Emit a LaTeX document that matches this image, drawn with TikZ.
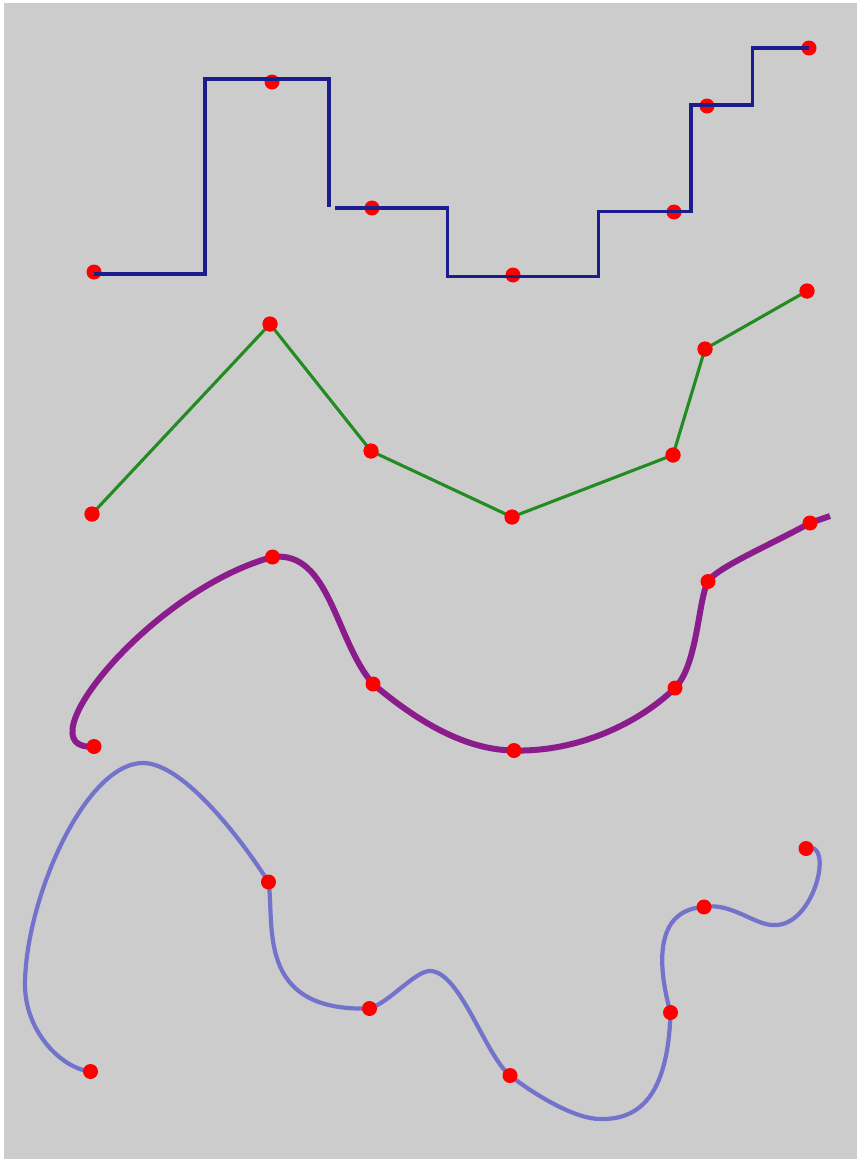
\documentclass[tikz,border=0pt]{standalone}
\begin{document}
\begin{tikzpicture}[x=1pt,y=-1pt,
  dot/.style={circle,fill=dotred,draw=none,inner sep=0pt,minimum size=15pt},
  stepline/.style={draw=navyline,line width=3.1pt},
  greenline/.style={draw=greenline,line width=3.1pt,line join=round},
  purplecurve/.style={draw=purpleline,line width=6pt},
  lavcurve/.style={draw=lavline,line width=4.2pt}]
\definecolor{bg}{RGB}{204,204,204}
\definecolor{dotred}{RGB}{255,0,0}
\definecolor{navyline}{RGB}{28,28,140}
\definecolor{greenline}{RGB}{34,139,34}
\definecolor{purpleline}{RGB}{139,28,139}
\definecolor{lavline}{RGB}{115,115,204}
\useasboundingbox (0,0) rectangle (857,1159);
\fill[white] (0,0) rectangle (857,1159);
\fill[bg] (4,3) rectangle (857,1159);

% ---- step curve ----
\node[dot] (s1) at (94,272) {};
\node[dot] (s2) at (272,82) {};
\node[dot] (s3) at (372,208) {};
\node[dot] (s4) at (513,275) {};
\node[dot] (s5) at (674,212) {};
\node[dot] (s6) at (707,106) {};
\node[dot] (s7) at (809,48) {};
\draw[stepline] (s1.center |- 0,274) -- (205,274) -- (205,79) -- (329,79) -- (329,207);
\draw[stepline] (335,208) -- (447.5,208) -- (447.5,276.5) -- (598.5,276.5) -- (598.5,211.5) -- (691,211.5) -- (691,105) -- (752.5,105) -- (752.5,48) -- (s7.center);

% ---- polyline ----
\node[dot] (g1) at (92,514) {};
\node[dot] (g2) at (270,324) {};
\node[dot] (g3) at (371,451) {};
\node[dot] (g4) at (512,517) {};
\node[dot] (g5) at (673,455) {};
\node[dot] (g6) at (705,349) {};
\node[dot] (g7) at (807,291) {};
\draw[greenline] (g1.center) -- (g2.center) -- (g3.center) -- (g4.center) -- (g5.center) -- (g6.center) -- (g7.center);
\foreach \n in {g1,g2,g3,g4,g5,g6,g7} \fill[dotred] (\n) circle (7.5pt);

% ---- purple spline ----
\coordinate (p1) at (94,746.5);
\coordinate (p2) at (272.5,557);
\coordinate (p3) at (373,684);
\coordinate (p4) at (514,750.5);
\coordinate (p5) at (675,688);
\coordinate (p6) at (708,581.5);
\coordinate (p7) at (810,523);
\coordinate (pe) at (830,516);
\draw[purplecurve] (p1) .. controls (20,752) and (150,590) .. (p2)
  .. controls (330,550) and (335,640) .. (p3)
  .. controls (410,715) and (460,750) .. (p4)
  .. controls (580,752) and (640,722) .. (p5)
  .. controls (698,664) and (698,600) .. (p6)
  .. controls (716,568) and (770,545) .. (p7) -- (pe);
\foreach \n in {p1,p2,p3,p4,p5,p6,p7} \node[dot] at (\n) {};

% ---- lavender spline ----
\coordinate (q1) at (90.5,1071.5);
\coordinate (q2) at (268.5,882);
\coordinate (q3) at (369.5,1008.5);
\coordinate (q4) at (510,1075.5);
\coordinate (q5) at (670.5,1012.5);
\coordinate (q6) at (704,907);
\coordinate (q7) at (806,848.5);
\draw[lavcurve] (q1) .. controls (60,1068) and (25,1030) .. (25,985)
  .. controls (25,900) and (85,763) .. (143,763)
  .. controls (185,763) and (245,845) .. (q2)
  .. controls (275,925) and (255,1012) .. (q3)
  .. controls (390,1002) and (415,971) .. (430,971)
  .. controls (460,971) and (485,1055) .. (q4)
  .. controls (535,1095) and (575,1119) .. (600,1119)
  .. controls (640,1120) and (668,1095) .. (q5)
  .. controls (660,975) and (650,910) .. (q6)
  .. controls (730,902) and (755,925) .. (773,925)
  .. controls (815,928) and (835,838) .. (q7);
\foreach \n in {q1,q2,q3,q4,q5,q6,q7} \node[dot] at (\n) {};
\end{tikzpicture}
\end{document}
